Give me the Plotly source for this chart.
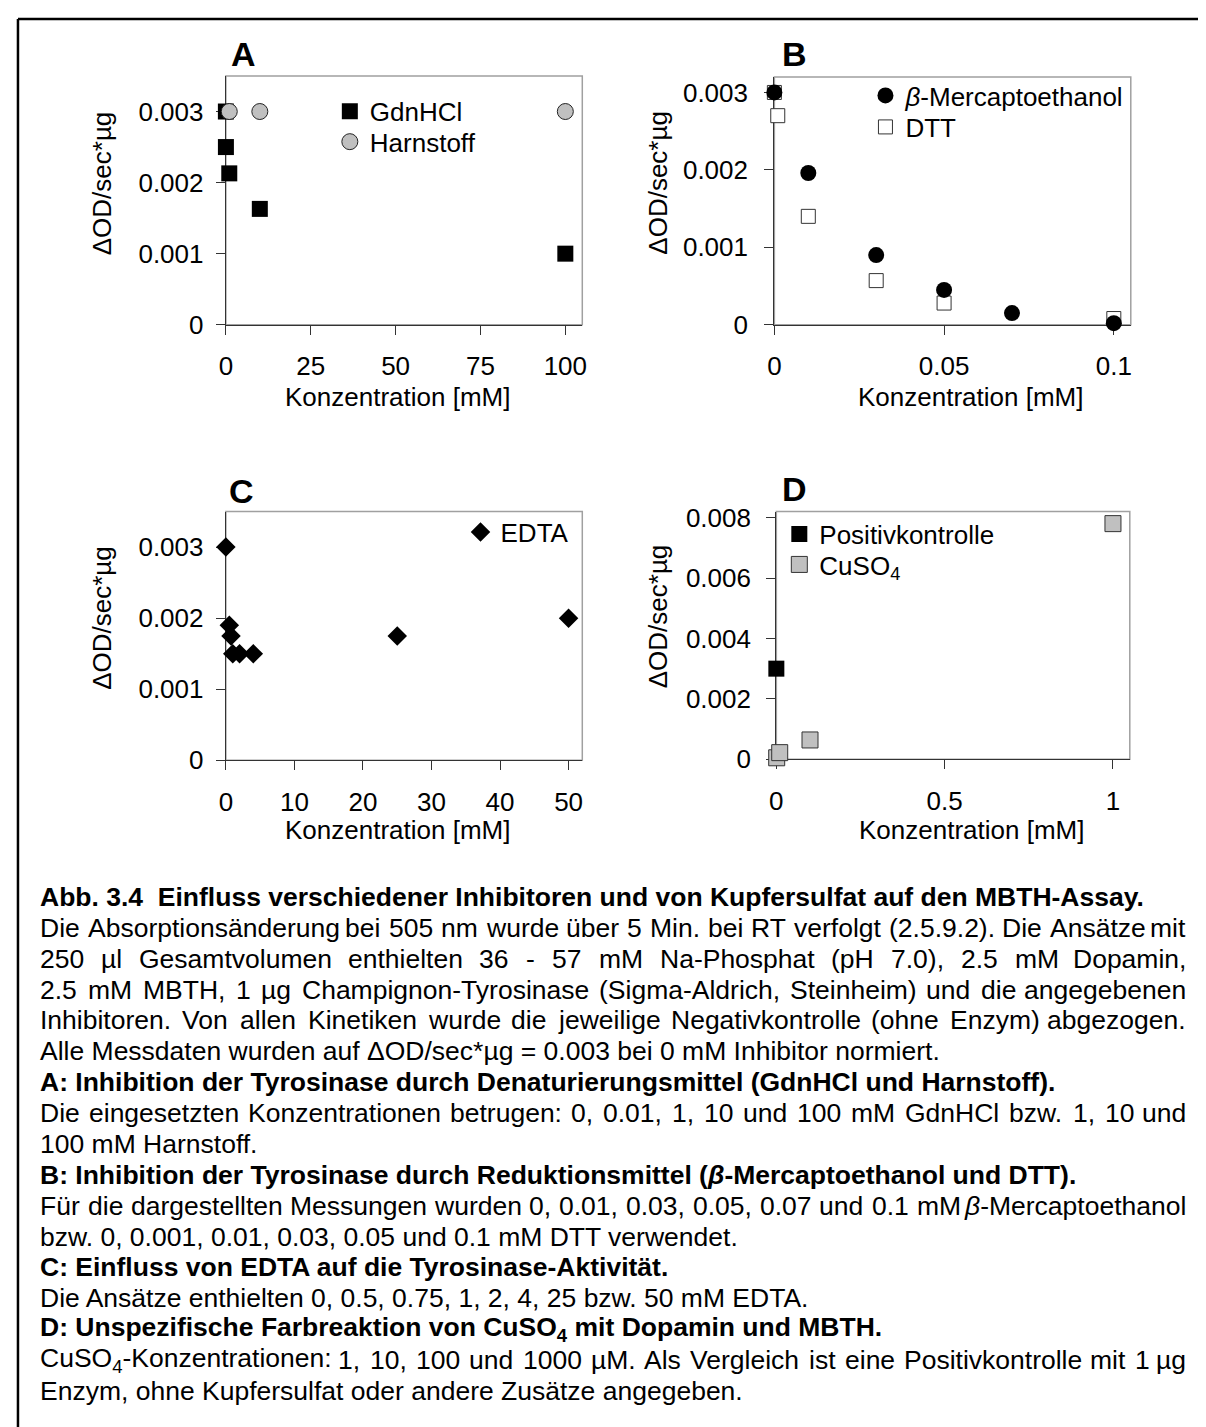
import plotly.graph_objects as go

W, H = 1206, 1427
FONT = "Liberation Sans, Arial, sans-serif"
OFF = 8  # page body margin of the html page

# ---------------- data ----------------
a_gdn_x = [0, 0.01, 1, 10, 100]
a_gdn_y = [0.003, 0.0025, 0.00213, 0.00163, 0.001]
a_harn_x = [1, 10, 100]
a_harn_y = [0.003, 0.003, 0.003]

b_merc_x = [0, 0.01, 0.03, 0.05, 0.07, 0.1]
b_merc_y = [0.003, 0.00196, 0.0009, 0.00045, 0.00015, 0.00002]
b_dtt_x = [0, 0.001, 0.01, 0.03, 0.05, 0.1]
b_dtt_y = [0.003, 0.0027, 0.0014, 0.00057, 0.00028, 0.00008]

c_edta_x = [0, 0.5, 0.75, 1, 2, 4, 25, 50]
c_edta_y = [0.003, 0.0019, 0.00175, 0.0015, 0.0015, 0.0015, 0.00175, 0.002]

d_pos_x = [0]
d_pos_y = [0.003]
d_cu_x = [0.001, 0.01, 0.1, 1]
d_cu_y = [0.00005, 0.00022, 0.00064, 0.0078]

a_xticks = [0, 25, 50, 75, 100]
b_xticks = [0, 0.05, 0.1]
b_xticktext = ["0", "0.05", "0.1"]
c_xticks = [0, 10, 20, 30, 40, 50]
d_xticks = [0, 0.5, 1]
d_xticktext = ["0", "0.5", "1"]
abc_yticks = [0, 0.001, 0.002, 0.003]
abc_yticktext = ["0", "0.001", "0.002", "0.003"]
d_yticks = [0, 0.002, 0.004, 0.006, 0.008]
d_yticktext = ["0", "0.002", "0.004", "0.006", "0.008"]

y_title = "ΔOD/sec*µg"
x_title = "Konzentration [mM]"
panel_labels = ["A", "B", "C", "D"]

caption = [
    ("b", "Abb. 3.4\u00a0 Einfluss verschiedener Inhibitoren und von Kupfersulfat auf den MBTH-Assay."),
    ("j", "Die Absorptionsänderung bei 505 nm wurde über 5 Min. bei RT verfolgt (2.5.9.2). Die Ansätze mit"),
    ("j", "250 µl Gesamtvolumen enthielten 36 - 57 mM Na-Phosphat (pH 7.0), 2.5 mM Dopamin,"),
    ("j", "2.5 mM MBTH, 1 µg Champignon-Tyrosinase (Sigma-Aldrich, Steinheim) und die angegebenen"),
    ("j", "Inhibitoren. Von allen Kinetiken wurde die jeweilige Negativkontrolle (ohne Enzym) abgezogen."),
    ("l", "Alle Messdaten wurden auf ΔOD/sec*µg = 0.003 bei 0 mM Inhibitor normiert."),
    ("b", "A: Inhibition der Tyrosinase durch Denaturierungsmittel (GdnHCl und Harnstoff)."),
    ("j", "Die eingesetzten Konzentrationen betrugen: 0, 0.01, 1, 10 und 100 mM GdnHCl bzw. 1, 10 und"),
    ("l", "100 mM Harnstoff."),
    ("b", "B: Inhibition der Tyrosinase durch Reduktionsmittel (<i>β</i>-Mercaptoethanol und DTT)."),
    ("j", "Für die dargestellten Messungen wurden 0, 0.01, 0.03, 0.05, 0.07 und 0.1 mM <i>β</i>-Mercaptoethanol"),
    ("l", "bzw. 0, 0.001, 0.01, 0.03, 0.05 und 0.1 mM DTT verwendet."),
    ("b", "C: Einfluss von EDTA auf die Tyrosinase-Aktivität."),
    ("l", "Die Ansätze enthielten 0, 0.5, 0.75, 1, 2, 4, 25 bzw. 50 mM EDTA."),
    ("b", "D: Unspezifische Farbreaktion von CuSO<sub>4</sub> mit Dopamin und MBTH."),
    ("j", "CuSO<sub>4</sub>-Konzentrationen: 1, 10, 100 und 1000 µM. Als Vergleich ist eine Positivkontrolle mit 1 µg"),
    ("l", "Enzym, ohne Kupfersulfat oder andere Zusätze angegeben."),
]

# ---------------- helpers ----------------
def px(x):
    return (x - OFF) / W

def py(y):
    return 1 - (y - OFF) / H

WID = {' ': 278, '!': 278, '"': 355, '#': 556, '%': 889, '&': 667, "'": 191, '(': 333, ')': 333,
       '*': 389, '+': 584, ',': 278, '-': 333, '.': 278, '/': 278, ':': 278, ';': 278, '=': 584,
       '?': 556, '[': 278, ']': 278,
       'A': 667, 'B': 667, 'C': 722, 'D': 722, 'E': 667, 'F': 611, 'G': 778, 'H': 722, 'I': 278,
       'J': 500, 'K': 667, 'L': 556, 'M': 833, 'N': 722, 'O': 778, 'P': 667, 'Q': 778, 'R': 722,
       'S': 667, 'T': 611, 'U': 722, 'V': 667, 'W': 944, 'X': 667, 'Y': 667, 'Z': 611,
       'a': 556, 'b': 556, 'c': 500, 'd': 556, 'e': 556, 'f': 278, 'g': 556, 'h': 556, 'i': 222,
       'j': 222, 'k': 500, 'l': 222, 'm': 833, 'n': 556, 'o': 556, 'p': 556, 'q': 556, 'r': 333,
       's': 500, 't': 278, 'u': 556, 'v': 500, 'w': 722, 'x': 500, 'y': 500, 'z': 500,
       'ä': 556, 'ö': 556, 'ü': 556, 'µ': 556, 'β': 575, 'Δ': 668}


def text_width(word, size):
    total = 0.0
    scale = 1.0
    i = 0
    while i < len(word):
        if word[i] == '<':
            j = word.index('>', i)
            tag = word[i + 1:j]
            if tag == 'sub':
                scale = 0.7
            elif tag == '/sub':
                scale = 1.0
            i = j + 1
            continue
        ch = word[i]
        w = 556 if ch.isdigit() else WID.get(ch, 556)
        total += w * scale
        i += 1
    return total / 1000.0 * size


# ---------------- figure ----------------
fig = go.Figure()

MK = 16
fig.add_trace(go.Scatter(x=a_gdn_x, y=a_gdn_y, mode="markers", name="GdnHCl",
                         marker=dict(symbol="square", size=MK, color="black", line=dict(width=0)),
                         xaxis="x", yaxis="y", legend="legend", cliponaxis=False, showlegend=True))
fig.add_trace(go.Scatter(x=a_harn_x, y=a_harn_y, mode="markers", name="Harnstoff",
                         marker=dict(symbol="circle", size=MK, color="#c0c0c0", line=dict(width=1, color="#222")),
                         xaxis="x", yaxis="y", legend="legend2", cliponaxis=False, showlegend=True))

fig.add_trace(go.Scatter(x=b_dtt_x, y=b_dtt_y, mode="markers", name="DTT",
                         marker=dict(symbol="square", size=14, color="white", line=dict(width=1, color="#333")),
                         xaxis="x2", yaxis="y2", legend="legend4", cliponaxis=False, showlegend=True))
fig.add_trace(go.Scatter(x=b_merc_x, y=b_merc_y, mode="markers", name="<i>β</i>-Mercaptoethanol",
                         marker=dict(symbol="circle", size=MK, color="black", line=dict(width=0)),
                         xaxis="x2", yaxis="y2", legend="legend3", cliponaxis=False, showlegend=True))

fig.add_trace(go.Scatter(x=c_edta_x, y=c_edta_y, mode="markers", name="EDTA",
                         marker=dict(symbol="diamond", size=15, color="black", line=dict(width=0)),
                         xaxis="x3", yaxis="y3", legend="legend5", cliponaxis=False, showlegend=True))

fig.add_trace(go.Scatter(x=d_pos_x, y=d_pos_y, mode="markers", name="Positivkontrolle",
                         marker=dict(symbol="square", size=MK, color="black", line=dict(width=0)),
                         xaxis="x4", yaxis="y4", legend="legend6", cliponaxis=False, showlegend=True))
fig.add_trace(go.Scatter(x=d_cu_x, y=d_cu_y, mode="markers", name="CuSO<sub>4</sub>",
                         marker=dict(symbol="square", size=MK, color="#c0c0c0", line=dict(width=1, color="#333")),
                         xaxis="x4", yaxis="y4", legend="legend7", cliponaxis=False, showlegend=True))

# plot-area boxes in pixels (left, right, top, bottom)
boxes = [(221, 581, 68, 321), (775, 1135, 69, 321), (221, 581, 511, 764), (777, 1134, 511, 763)]
xranges = [[0, 105], [0, 0.105], [0, 52], [0, 1.05]]
yranges = [[0, 0.0035], [0, 0.0032], [0, 0.0035], [0, 0.0082]]
xtv = [a_xticks, b_xticks, c_xticks, d_xticks]
xtt = [[str(v) for v in a_xticks], b_xticktext, [str(v) for v in c_xticks], d_xticktext]
ytv = [abc_yticks, abc_yticks, abc_yticks, d_yticks]
ytt = [abc_yticktext, abc_yticktext, abc_yticktext, d_yticktext]
ystand = [7, 11, 7, 10]

AXC = "#333333"
layout = dict(width=W, height=H, margin=dict(l=0, r=0, t=0, b=0),
              paper_bgcolor="white", plot_bgcolor="white", showlegend=True,
              font=dict(family=FONT, size=26, color="black"))
shapes = []
for i, (l, r, t, b) in enumerate(boxes):
    sfx = "" if i == 0 else str(i + 1)
    layout["xaxis" + sfx] = dict(domain=[px(l), px(r)], range=xranges[i], tickvals=xtv[i], ticktext=xtt[i],
                                 showgrid=False, zeroline=False, showline=True, linecolor=AXC, linewidth=1.3,
                                 ticks="outside", ticklen=9, tickwidth=1.3, tickcolor=AXC,
                                 tickfont=dict(size=26, color="black", family=FONT), ticklabelstandoff=9,
                                 layer="below traces", anchor="y" + sfx, fixedrange=True)
    layout["yaxis" + sfx] = dict(domain=[py(b), py(t)], range=yranges[i], tickvals=ytv[i], ticktext=ytt[i],
                                 showgrid=False, zeroline=False, showline=True, linecolor=AXC, linewidth=1.3,
                                 ticks="outside", ticklen=9, tickwidth=1.3, tickcolor=AXC,
                                 tickfont=dict(size=26, color="black", family=FONT), ticklabelstandoff=ystand[i],
                                 layer="below traces", anchor="x" + sfx, fixedrange=True)
    shapes.append(dict(type="rect", xref="x" + sfx + " domain", yref="y" + sfx + " domain",
                       x0=0, x1=1, y0=0, y1=1, line=dict(color="#a0a0a0", width=1.5), layer="below"))

# outer frame (left and top lines)
shapes.append(dict(type="line", xref="paper", yref="paper", x0=px(11), x1=px(W + 20), y0=py(10), y1=py(10),
                   line=dict(color="black", width=2.5)))
shapes.append(dict(type="line", xref="paper", yref="paper", x0=px(11), x1=px(11), y0=py(10), y1=py(H + 20),
                   line=dict(color="black", width=2.5)))
layout["shapes"] = shapes

# one legend per entry (symbol centre positions in pixels)
leg_pos = [(346, 104), (346, 135), (887, 88), (887, 120), (478, 532), (800, 534), (800, 565)]
for i, (sx, sy) in enumerate(leg_pos):
    key = "legend" if i == 0 else "legend" + str(i + 1)
    layout[key] = dict(x=px(sx - 20), y=py(sy - 24), xanchor="left", yanchor="top", visible=True,
                       bgcolor="rgba(0,0,0,0)", borderwidth=0, font=dict(size=26, family=FONT, color="black"),
                       itemclick=False, itemdoubleclick=False)

annotations = []
ytitle_pos = [(96, 177), (658, 177), (96, 619), (657, 618)]
xtitle_pos = [(394, 395), (973, 395), (394, 835), (974, 835)]
plabel_pos = [(239, 46), (795, 46), (237, 490), (795, 488)]
for i in range(4):
    annotations.append(dict(x=px(ytitle_pos[i][0]), y=py(ytitle_pos[i][1]), xref="paper", yref="paper",
                            text=y_title, textangle=-90, showarrow=False, font=dict(size=26),
                            xanchor="center", yanchor="middle"))
    annotations.append(dict(x=px(xtitle_pos[i][0]), y=py(xtitle_pos[i][1]), xref="paper", yref="paper",
                            text=x_title, showarrow=False, font=dict(size=26),
                            xanchor="center", yanchor="middle"))
    annotations.append(dict(x=px(plabel_pos[i][0]), y=py(plabel_pos[i][1]), xref="paper", yref="paper",
                            text="<b>" + panel_labels[i] + "</b>", showarrow=False, font=dict(size=34),
                            xanchor="center", yanchor="middle"))

# caption
CAP_SIZE = 26.5
CAP_L, CAP_R = 32, 1192
cap_y0, cap_dy = 903, 31.4
for k, (kind, line) in enumerate(caption):
    yc = cap_y0 + k * cap_dy
    if kind == "j":
        words = line.split(" ")
        widths = [text_width(w_, CAP_SIZE) for w_ in words]
        gap = (CAP_R - CAP_L - sum(widths)) / (len(words) - 1)
        xpos = CAP_L
        for n, (w_, wd) in enumerate(zip(words, widths)):
            last = n == len(words) - 1
            annotations.append(dict(x=px(CAP_R if last else xpos), y=py(yc), xref="paper", yref="paper",
                                    text=w_, showarrow=False, font=dict(size=CAP_SIZE),
                                    xanchor="right" if last else "left", yanchor="middle", borderpad=0))
            xpos += wd + gap
    else:
        txt = "<b>" + line + "</b>" if kind == "b" else line
        annotations.append(dict(x=px(CAP_L), y=py(yc), xref="paper", yref="paper", text=txt,
                                showarrow=False, font=dict(size=CAP_SIZE), xanchor="left",
                                yanchor="middle", borderpad=0))
layout["annotations"] = annotations

fig.update_layout(**layout)
fig.write_html("out.html")
